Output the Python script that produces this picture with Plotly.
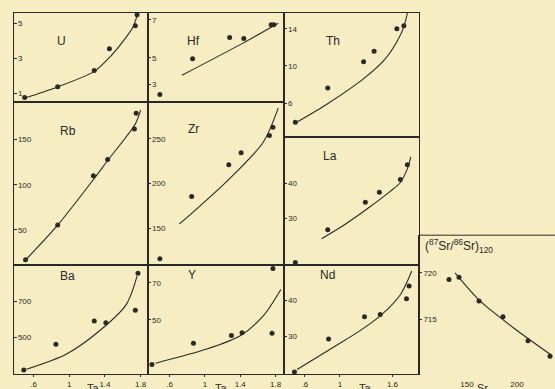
import plotly.graph_objects as go

W, H = 555, 389

# ---- sample values (Ta, ppm) and model curves for each element ----
u_ta = [0.50, 0.87, 1.28, 1.45, 1.74, 1.76]
u_val = [0.78, 1.39, 2.31, 3.55, 4.85, 5.47]
u_curve_ta = [0.50, 0.86, 1.28, 1.46, 1.60, 1.71, 1.77]
u_curve = [0.74, 1.36, 2.26, 3.10, 3.95, 4.73, 5.58]

hf_ta = [0.49, 0.86, 1.28, 1.44, 1.75, 1.78]
hf_val = [3.08, 4.96, 6.08, 6.02, 6.74, 6.74]
hf_curve_ta = [0.74, 1.43, 1.83]
hf_curve = [4.09, 5.78, 6.83]

th_ta = [0.49, 0.86, 1.27, 1.39, 1.65, 1.73]
th_val = [3.94, 7.63, 10.45, 11.58, 14.0, 14.32]
th_curve_ta = [0.49, 0.85, 1.26, 1.51, 1.65, 1.73, 1.77]
th_curve = [3.87, 5.89, 8.56, 10.69, 12.61, 14.21, 15.71]

rb_ta = [0.51, 0.87, 1.27, 1.43, 1.73, 1.75]
rb_val = [17.0, 55.5, 110.1, 128.0, 161.8, 179.3]
rb_curve_ta = [0.51, 0.86, 1.27, 1.42, 1.74, 1.80]
rb_curve = [16.7, 54.1, 105.7, 125.5, 167.3, 182.6]

zr_ta = [0.49, 0.85, 1.27, 1.41, 1.73, 1.77]
zr_val = [115.9, 185.6, 221.1, 234.4, 253.7, 263.0]
zr_curve_ta = [0.71, 0.85, 1.28, 1.66, 1.83]
zr_curve = [154.8, 166.7, 205.6, 246.3, 284.4]

la_ta = [0.49, 0.86, 1.29, 1.45, 1.69, 1.77]
la_val = [17.3, 26.7, 34.6, 37.5, 41.2, 45.4]
la_curve_ta = [0.79, 1.06, 1.32, 1.57, 1.69, 1.77, 1.81]
la_curve = [24.1, 28.3, 32.9, 37.7, 40.3, 44.3, 47.7]

ba_ta = [0.49, 0.85, 1.28, 1.41, 1.74, 1.77]
ba_val = [318, 461, 591, 582, 652, 859]
ba_curve_ta = [0.52, 0.97, 1.34, 1.64, 1.76]
ba_curve = [321, 407, 537, 685, 843]

y_ta = [0.40, 0.87, 1.30, 1.42, 1.76, 1.77]
y_val = [25.9, 37.3, 41.6, 43.0, 42.8, 77.7]
y_curve_ta = [0.44, 1.02, 1.40, 1.66, 1.86]
y_curve = [26.6, 34.2, 41.4, 52.1, 66.4]

nd_ta = [0.48, 0.87, 1.28, 1.46, 1.76, 1.79]
nd_val = [20.0, 29.2, 35.4, 36.0, 40.4, 43.9]
nd_curve_ta = [0.51, 0.92, 1.23, 1.46, 1.69, 1.82]
nd_curve = [20.7, 26.8, 31.5, 35.6, 41.5, 48.1]

sr_val = [132, 142, 162, 186, 211, 233]
sr_ratio = [0.71928, 0.71954, 0.71697, 0.71526, 0.71269, 0.71101]
sr_curve_val = [138, 163, 196, 235]
sr_curve = [0.72000, 0.71697, 0.71411, 0.71108]

ta_ticks = [0.6, 1.0, 1.4, 1.8]
ta_ticktext = [".6", "1", "1.4", "1.8"]
ta_ticks3 = [0.6, 1.0, 1.6]
ta_ticktext3 = [".6", "1", "1.6"]

# ---- panel layout (pixel boxes on the page) ----
COLX = [13.5, 147.7, 283.7, 419.0, 555.0]
panels = [
    # name, x-col, top, bottom, xrange, yrange, yticks, yticktext
    ("U", 0, 13, 103, (0.375, 1.879), (0.51, 5.58), [1, 3, 5], None),
    ("Hf", 1, 13, 103, (0.352, 1.892), (2.67, 7.37), [3.6, 5, 7], ["3", "5", "7"]),
    ("Th", 2, 13, 138, (0.357, 1.903), (2.37, 15.71), [6, 10, 14], None),
    ("Rb", 0, 103, 267, (0.375, 1.879), (11.2, 191.4), [50, 100, 150], None),
    ("Zr", 1, 103, 267, (0.352, 1.892), (108.9, 291.1), [150, 200, 250], None),
    ("La", 2, 138, 267, (0.357, 1.903), (16.57, 53.43), [30, 40], None),
    ("Ba", 0, 267, 377, (0.375, 1.879), (294.4, 905.6), [500, 700], None),
    ("Y", 1, 267, 377, (0.352, 1.892), (20.7, 79.65), [50, 70], None),
    ("Nd", 2, 267, 377, (0.357, 1.903), (19.4, 49.8), [30, 40], None),
]
series = {
    "U": (u_ta, u_val, u_curve_ta, u_curve),
    "Hf": (hf_ta, hf_val, hf_curve_ta, hf_curve),
    "Th": (th_ta, th_val, th_curve_ta, th_curve),
    "Rb": (rb_ta, rb_val, rb_curve_ta, rb_curve),
    "Zr": (zr_ta, zr_val, zr_curve_ta, zr_curve),
    "La": (la_ta, la_val, la_curve_ta, la_curve),
    "Ba": (ba_ta, ba_val, ba_curve_ta, ba_curve),
    "Y": (y_ta, y_val, y_curve_ta, y_curve),
    "Nd": (nd_ta, nd_val, nd_curve_ta, nd_curve),
}
# element name positions (pixels)
label_pos = {"U": (55, 32), "Hf": (193, 32), "Th": (333, 32), "Rb": (58, 123),
             "Zr": (193, 121), "La": (330, 157), "Ba": (58, 287), "Y": (192, 286),
             "Nd": (327, 286)}

INK = "#2b2926"
BG = "#f6edc3"
FONT = "Liberation Sans, Arial, sans-serif"

def px(x):
    return x / W

def py(y):
    return 1 - y / H

fig = go.Figure()
layout = dict(
    width=W, height=H, margin=dict(l=0, r=0, t=0, b=0),
    paper_bgcolor=BG, plot_bgcolor="rgba(0,0,0,0)", showlegend=False,
    font=dict(family=FONT, color=INK),
)
annotations = []
shapes = []

for i, (name, col, top, bot, xr, yr, yt, ytt) in enumerate(panels, start=1):
    sfx = "" if i == 1 else str(i)
    xa, ya = f"x{sfx}", f"y{sfx}"
    bottom_row = bot == 377
    xt, xtt = (ta_ticks3, ta_ticktext3) if col == 2 else (ta_ticks, ta_ticktext)
    xaxis = dict(
        domain=[px(COLX[col]), px(COLX[col + 1])], range=list(xr), anchor=ya,
        showgrid=False, zeroline=False, showline=True, mirror=True,
        linecolor=INK, linewidth=1, showticklabels=bottom_row,
    )
    if bottom_row:
        xaxis.update(tickvals=xt, ticktext=xtt, ticks="outside", ticklen=2,
                     tickcolor=INK, tickfont=dict(size=8, color=INK))
    else:
        xaxis.update(ticks="", tickvals=[])
    layout[f"xaxis{sfx}"] = xaxis
    layout[f"yaxis{sfx}"] = dict(
        domain=[py(bot), py(top)], range=list(yr), anchor=xa,
        showgrid=False, zeroline=False, showline=True, mirror=True,
        linecolor=INK, linewidth=1,
        tickvals=yt, ticktext=ytt if ytt else [str(v) for v in yt],
        ticks="inside", ticklen=3, tickcolor=INK,
        ticklabelposition="inside", tickfont=dict(size=8, color=INK),
    )
    xs, ys, cx, cy = series[name]
    fig.add_trace(go.Scatter(x=cx, y=cy, mode="lines", xaxis=xa, yaxis=ya,
                             line=dict(color=INK, width=1.1, shape="spline", smoothing=0.8),
                             hoverinfo="skip"))
    fig.add_trace(go.Scatter(x=xs, y=ys, mode="markers", xaxis=xa, yaxis=ya,
                             marker=dict(color=INK, size=5)))
    lx, ly = label_pos[name]
    annotations.append(dict(x=px(lx), y=py(ly), xref="paper", yref="paper",
                            text=name, showarrow=False,
                            font=dict(size=12, color=INK, family=FONT)))

# Sr isotope panel
i = len(panels) + 1
sfx = str(i)
layout[f"xaxis{sfx}"] = dict(
    domain=[px(419), 1.0], range=[102, 238], anchor=f"y{sfx}",
    showgrid=False, zeroline=False, showline=False,
    tickvals=[150, 200], ticktext=["150", "200"], ticks="outside", ticklen=2,
    tickcolor="rgba(0,0,0,0)", tickfont=dict(size=8, color=INK),
)
layout[f"yaxis{sfx}"] = dict(
    domain=[py(377), py(237)], range=[0.70908, 0.72407], anchor=f"x{sfx}",
    showgrid=False, zeroline=False, showline=True, linecolor=INK, linewidth=1,
    tickvals=[0.715, 0.720], ticktext=["715", "720"],
    ticks="inside", ticklen=3, tickcolor=INK,
    ticklabelposition="inside", tickfont=dict(size=8, color=INK),
)
fig.add_trace(go.Scatter(x=sr_curve_val, y=sr_curve, mode="lines", xaxis=f"x{sfx}", yaxis=f"y{sfx}",
                         line=dict(color=INK, width=1.1, shape="spline", smoothing=0.8)))
fig.add_trace(go.Scatter(x=sr_val, y=sr_ratio, mode="markers", xaxis=f"x{sfx}", yaxis=f"y{sfx}",
                         marker=dict(color=INK, size=5)))
shapes.append(dict(type="line", xref="paper", yref="paper", x0=px(419), x1=1.0,
                   y0=py(237), y1=py(237), line=dict(color=INK, width=1)))
annotations.append(dict(x=px(423), y=py(237), xref="paper", yref="paper",
                        xanchor="left", yanchor="top", showarrow=False,
                        text="(<sup>87</sup>Sr/<sup>86</sup>Sr)<sub>120</sub>",
                        font=dict(size=12, color=INK, family=FONT)))

# axis titles along the bottom edge (partly below the page)
for lx, txt in [(85, "Ta"), (221, "Ta"), (365, "Ta"), (490, "Sr")]:
    annotations.append(dict(x=px(lx), y=py(383), xref="paper", yref="paper",
                            yanchor="top", showarrow=False, text=txt,
                            font=dict(size=11, color=INK, family=FONT)))

layout["annotations"] = annotations
layout["shapes"] = shapes
fig.update_layout(**layout)
fig.write_html("out.html")
